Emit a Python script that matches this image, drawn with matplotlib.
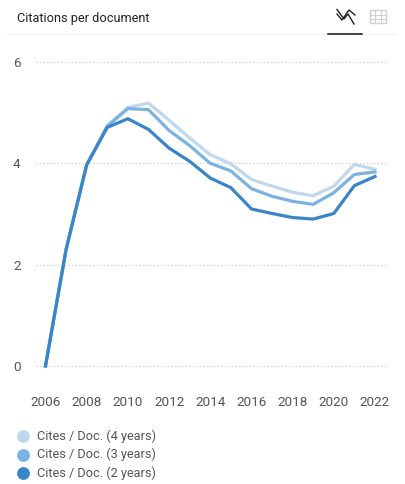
#!/usr/bin/env python3
import matplotlib
matplotlib.use("Agg")
import matplotlib.pyplot as plt
from matplotlib.lines import Line2D
from matplotlib.patches import Rectangle

plt.rcParams["font.family"] = ["Roboto", "DejaVu Sans"]

W, H = 406, 484

years = list(range(2006, 2023))
cites_2y = [0, 2.3, 3.97, 4.71, 4.88, 4.67, 4.3, 4.04, 3.71, 3.52, 3.1, 3.01, 2.93, 2.9, 3.01, 3.56, 3.74]
cites_3y = [0, 2.3, 3.97, 4.73, 5.08, 5.06, 4.65, 4.35, 4.0, 3.85, 3.5, 3.35, 3.25, 3.19, 3.42, 3.78, 3.83]
cites_4y = [0, 2.3, 3.97, 4.75, 5.1, 5.19, 4.85, 4.5, 4.17, 3.99, 3.68, 3.55, 3.43, 3.36, 3.55, 3.98, 3.88]

series_labels = ["Cites / Doc. (4 years)", "Cites / Doc. (3 years)", "Cites / Doc. (2 years)"]
series_colors = ["#bfd8f0", "#7cb2e2", "#3a85c9"]
x_ticks = list(range(2006, 2023, 2))
y_ticks = [0, 2, 4, 6]


def fx(px):
    return px / W


def fy(py):
    return 1 - py / H


def main():
    fig = plt.figure(figsize=(W / 100, H / 100), dpi=100)

    # axes box in pixels: 36..386 across, 40..385 down
    ax = fig.add_axes([fx(36), fy(385), (386 - 36) / W, (385 - 40) / H])
    per_year = (375 - 45.5) / 16
    ax.set_xlim(2006 - (45.5 - 36) / per_year, 2022 + (386 - 375) / per_year)
    per_unit = (366 - 62) / 6
    ax.set_ylim(-(385 - 366) / per_unit, 6 + (62 - 40) / per_unit)

    for vals, color, z in zip([cites_4y, cites_3y, cites_2y], series_colors, [2, 3, 4]):
        ax.plot(years, vals, color=color, lw=2.3, zorder=z, solid_joinstyle="miter")

    ax.grid(True, axis="y", color="#cccccc", lw=0.8, linestyle=(0, (1.2, 2.0)))
    ax.set_axisbelow(True)
    for s in ax.spines.values():
        s.set_visible(False)
    ax.set_xticks(x_ticks)
    ax.set_yticks(y_ticks)
    ax.tick_params(length=0, labelsize=9.7, labelcolor="#555555")
    ax.tick_params(axis="x", pad=8)
    ax.tick_params(axis="y", pad=11)

    # header
    fig.text(fx(17), fy(18.5), "Citations per document", fontsize=9.2, color="#222222", va="center")
    fig.add_artist(Line2D([fx(3), fx(395)], [fy(34), fy(34)], color="#f2f2f2", lw=0.8))
    fig.add_artist(Line2D([fx(328), fx(362)], [fy(34), fy(34)], color="#111111", lw=1.1))

    # chart icon
    fig.add_artist(Line2D([fx(p) for p in (337, 344, 348, 354)],
                          [fy(p) for p in (9.5, 19, 14, 24)], color="#222222", lw=1.0))
    fig.add_artist(Line2D([fx(p) for p in (337, 342, 349, 355)],
                          [fy(p) for p in (14, 20, 10, 15)], color="#222222", lw=1.0))

    # table icon
    fig.add_artist(Rectangle((fx(370), fy(23)), 16 / W, 13 / H, transform=fig.transFigure,
                             fill=False, ec="#d0d0d0", lw=1.0))
    for px in (375.3, 380.6):
        fig.add_artist(Line2D([fx(px), fx(px)], [fy(10), fy(23)], color="#d0d0d0", lw=0.8))
    for py in (14.5, 18.8):
        fig.add_artist(Line2D([fx(370), fx(386)], [fy(py), fy(py)], color="#d0d0d0", lw=0.8))

    # legend
    for label, color, py in zip(series_labels, series_colors, [436, 454.5, 473]):
        fig.add_artist(Line2D([fx(23)], [fy(py)], marker="o", ms=9.2, color=color, mew=0, ls="none"))
        fig.text(fx(37), fy(py), label, fontsize=9.2, color="#555555", va="center")

    fig.savefig("out.png", dpi=100)


if __name__ == "__main__":
    main()
